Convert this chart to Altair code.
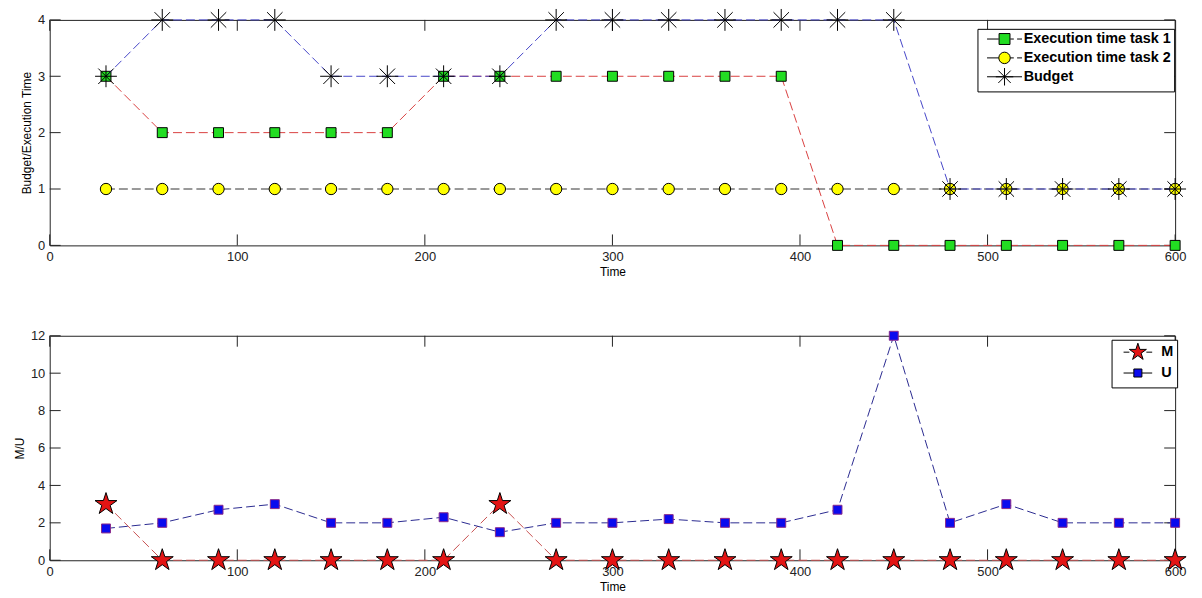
import altair as alt
import numpy as np
import pandas as pd

# ---------------- data ----------------
time = [30, 60, 90, 120, 150, 180, 210, 240, 270, 300,
        330, 360, 390, 420, 450, 480, 510, 540, 570, 600]
task1 = [3, 2, 2, 2, 2, 2, 3, 3, 3, 3, 3, 3, 3, 0, 0, 0, 0, 0, 0, 0]
task2 = [1, 1, 1, 1, 1, 1, 1, 1, 1, 1, 1, 1, 1, 1, 1, 1, 1, 1, 1, 1]
budget = [3, 4, 4, 4, 3, 3, 3, 3, 4, 4, 4, 4, 4, 4, 4, 1, 1, 1, 1, 1]
m_vals = [3, 0, 0, 0, 0, 0, 0, 3, 0, 0, 0, 0, 0, 0, 0, 0, 0, 0, 0, 0]
u_vals = [1.7, 2.0, 2.7, 3.0, 2.0, 2.0, 2.3, 1.5, 2.0, 2.0,
          2.2, 2.0, 2.0, 2.7, 12.0, 2.0, 3.0, 2.0, 2.0, 2.0]

x_ticks = [0, 100, 200, 300, 400, 500, 600]
y_ticks_top = [0, 1, 2, 3, 4]
y_ticks_bottom = [0, 2, 4, 6, 8, 10, 12]
legend_top = ["Execution time task 1", "Execution time task 2", "Budget"]
legend_bottom = ["M", "U"]

# ---------------- style ----------------
W, H1, H2 = 1133, 227, 226
TL = 11
FONT = "Liberation Sans"
DASH = [9, 4]

GREEN = "#22dd22"
YELLOW = "#ffff00"
RED = "#e31414"
BLUE = "#0a0aee"


def star_path(R=1.0, r=0.382):
    pts = []
    for k in range(10):
        ang = np.deg2rad(-90 + 36 * k)
        rad = R if k % 2 == 0 else r * R
        pts.append((rad * np.cos(ang), rad * np.sin(ang)))
    return "M" + "L".join(f"{x:.3f},{y:.3f}" for x, y in pts) + "Z"


def asterisk_path(R=1.0):
    d = R * 0.7071
    return (f"M{-R},0H{R}M0,{-R}V{R}"
            f"M{-d:.3f},{-d:.3f}L{d:.3f},{d:.3f}M{-d:.3f},{d:.3f}L{d:.3f},{-d:.3f}")


ASTER = asterisk_path(1.0)
STAR = star_path(1.0)

# legend symbols (marker + short dashed line); the leading moves equalise row heights
EQ_T = "M0,-1.6M0,1.6"
LINE_T = "M-3.2,0H-1.05M1.05,0H1.7M2.3,0H3.2"
LEG_SQ = EQ_T + LINE_T + "M-1,-1H1V1H-1Z"
LEG_CI = EQ_T + LINE_T + "M1.05,0A1.05,1.05 0 1,1 -1.05,0A1.05,1.05 0 1,1 1.05,0Z"
LEG_AS = "M-3.2,0H3.2" + asterisk_path(1.6)
EQ_B = "M0,-1M0,1"
LINE_B = "M-1.6,0H-0.95M0.95,0H1.6"
LEG_ST = EQ_B + LINE_B + star_path(1.0)
LEG_UQ = EQ_B + "M-1.6,0H-0.45M0.45,0H1.6M-0.45,-0.45H0.45V0.45H-0.45Z"

top_df = pd.DataFrame({
    "t": time * 3,
    "v": task1 + task2 + budget,
    "s": [legend_top[0]] * len(time) + [legend_top[1]] * len(time) + [legend_top[2]] * len(time),
})
bot_df = pd.DataFrame({
    "t": time * 2,
    "v": m_vals + u_vals,
    "s": [legend_bottom[0]] * len(time) + [legend_bottom[1]] * len(time),
})
xt_df = pd.DataFrame({"t": x_ticks})
yt_top_df = pd.DataFrame({"v": y_ticks_top})
yt_bot_df = pd.DataFrame({"v": y_ticks_bottom})


def x_enc():
    return alt.X("t:Q", scale=alt.Scale(domain=[0, 600], nice=False, zero=False),
                 axis=alt.Axis(values=x_ticks, title="Time", labelFlush=False,
                               labelPadding=5, titlePadding=3))


def y_enc(domain, ticks, title):
    return alt.Y("v:Q", scale=alt.Scale(domain=domain, nice=False, zero=False),
                 axis=alt.Axis(values=ticks, title=title, labelFlush=False))


def tick_layers(ydom, yticks, ytitle, H, ydf):
    bottom = alt.Chart(xt_df).mark_rule(color="#222", strokeWidth=1).encode(
        x=x_enc(), y=alt.value(H), y2=alt.value(H - TL))
    top = alt.Chart(xt_df).mark_rule(color="#222", strokeWidth=1).encode(
        x=x_enc(), y=alt.value(0), y2=alt.value(TL))
    left = alt.Chart(ydf).mark_rule(color="#222", strokeWidth=1).encode(
        y=y_enc(ydom, yticks, ytitle), x=alt.value(0), x2=alt.value(TL))
    right = alt.Chart(ydf).mark_rule(color="#222", strokeWidth=1).encode(
        y=y_enc(ydom, yticks, ytitle), x=alt.value(W), x2=alt.value(W - TL))
    return [bottom, top, left, right]


def series_line(df, name, color, ydom, yticks, ytitle):
    return alt.Chart(df).transform_filter(alt.datum.s == name).mark_line(
        color=color, strokeWidth=1, strokeDash=DASH).encode(
        x=x_enc(), y=y_enc(ydom, yticks, ytitle))


def series_points(df, name, ydom, yticks, ytitle, **kw):
    return alt.Chart(df).transform_filter(alt.datum.s == name).mark_point(
        opacity=1, strokeWidth=1, **kw).encode(
        x=x_enc(), y=y_enc(ydom, yticks, ytitle))


def legend_props(x, y, size, sym_off, lab_off, row_pad):
    return dict(title=None, orient="none", legendX=x, legendY=y,
                symbolSize=size, symbolOffset=sym_off, labelOffset=lab_off,
                labelFont=FONT, labelFontSize=14.5, labelFontWeight="bold",
                labelColor="#000", strokeColor="#000", fillColor="#fff",
                padding=3, rowPadding=row_pad, symbolStrokeColor="#000",
                symbolStrokeWidth=1, symbolOpacity=1)


def legend_layer(names, shapes, fills, lp):
    return alt.Chart(pd.DataFrame({"s": names})).transform_filter("false").mark_point(
        filled=True, opacity=1, strokeWidth=1).encode(
        shape=alt.Shape("s:N", scale=alt.Scale(domain=names, range=shapes),
                        legend=alt.Legend(**lp)),
        fill=alt.Fill("s:N", scale=alt.Scale(domain=names, range=fills),
                      legend=alt.Legend(**lp)),
        stroke=alt.Stroke("s:N", scale=alt.Scale(domain=names, range=["#000"] * len(names)),
                          legend=alt.Legend(**lp)),
    )


# ---------------- top panel ----------------
TD, TT, TTi = [0, 4], y_ticks_top, "Budget/Execution Time"
top_layers = tick_layers(TD, TT, TTi, H1, yt_top_df) + [
    series_line(top_df, legend_top[0], "#d94040", TD, TT, TTi),
    series_points(top_df, legend_top[0], TD, TT, TTi, shape="square", filled=True,
                  fill=GREEN, stroke="#000", size=100),
    series_line(top_df, legend_top[1], "#333333", TD, TT, TTi),
    series_points(top_df, legend_top[1], TD, TT, TTi, shape="circle", filled=True,
                  fill=YELLOW, stroke="#000", size=130),
    series_line(top_df, legend_top[2], "#4646c8", TD, TT, TTi),
    series_points(top_df, legend_top[2], TD, TT, TTi, shape=ASTER, filled=False,
                  stroke="#000", size=484),
]
lp_top = legend_props(934, 9, 121, 17, 12, -4)
top_legend = legend_layer(legend_top, [LEG_SQ, LEG_CI, LEG_AS], [GREEN, YELLOW, "#000"], lp_top)
top_chart = alt.layer(*top_layers, top_legend).properties(width=W, height=H1)

# ---------------- bottom panel ----------------
BD, BT, BTi = [0, 12], y_ticks_bottom, "M/U"
bot_layers = tick_layers(BD, BT, BTi, H2, yt_bot_df) + [
    series_line(bot_df, legend_bottom[0], "#c85050", BD, BT, BTi),
    series_points(bot_df, legend_bottom[0], BD, BT, BTi, shape=STAR, filled=True,
                  fill=RED, stroke="#000", size=540),
    series_line(bot_df, legend_bottom[1], "#2a2a90", BD, BT, BTi),
    series_points(bot_df, legend_bottom[1], BD, BT, BTi, shape="square", filled=True,
                  fill=BLUE, stroke="#8a2a8a", size=81),
]
lp_bot = legend_props(1069, 4, 324, 14, 14, -4)
bot_legend = legend_layer(legend_bottom, [LEG_ST, LEG_UQ], [RED, BLUE], lp_bot)
bot_chart = alt.layer(*bot_layers, bot_legend).properties(width=W, height=H2)

chart = alt.vconcat(top_chart, bot_chart, spacing=51).resolve_scale(
    shape="independent", fill="independent", stroke="independent"
).resolve_legend(
    shape="independent", fill="independent", stroke="independent"
).properties(
    padding={"left": 5, "top": -4, "right": 5, "bottom": 0},
    background="#ffffff",
).configure_view(stroke="#222", strokeWidth=1).configure_axis(
    labelFont=FONT, labelFontSize=13, labelColor="#222",
    titleFont=FONT, titleFontSize=12, titleFontWeight="normal", titleColor="#000",
    tickSize=0, domain=False, grid=False, labelPadding=5, titlePadding=4,
).configure_legend(cornerRadius=0)

chart.save("out.html", embed_options={"renderer": "svg", "actions": False})
